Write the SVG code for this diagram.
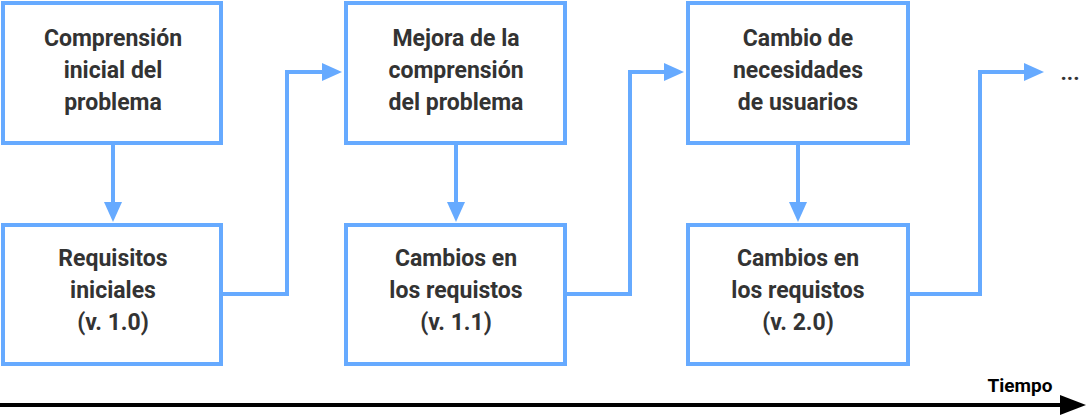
<svg xmlns="http://www.w3.org/2000/svg" width="1091" height="416" viewBox="0 0 1091 416">
<style>
.b{fill:#fff;stroke:#66aaff;stroke-width:4}
.t{font-family:Roboto,"Liberation Sans",sans-serif;font-weight:bold;font-size:23px;fill:#333;text-anchor:middle}
.c{fill:none;stroke:#66aaff;stroke-width:4}
</style>
<defs>
<marker id="a" markerWidth="8" markerHeight="8" refX="6" refY="4" orient="auto" markerUnits="userSpaceOnUse" viewBox="0 0 8 8"><path d="M0,0L8,4L0,8z" fill="#66aaff"/></marker>
<marker id="k" markerWidth="24" markerHeight="16" refX="22" refY="8" orient="auto" markerUnits="userSpaceOnUse"><path d="M0,0L24,8L0,16z" fill="#000"/></marker>
</defs>
<g id="connectors">
<path class="c" d="M113,145V208" marker-end="url(#a)" style="marker-end:none"/>
<path d="M104,202L113,222L122,202z" fill="#66aaff"/>
<path class="c" d="M456,145V208"/><path d="M447,202L456,222L465,202z" fill="#66aaff"/>
<path class="c" d="M798,145V208"/><path d="M789,202L798,222L807,202z" fill="#66aaff"/>
<path class="c" d="M222,294H287V72H328"/><path d="M322,63L342,72L322,81z" fill="#66aaff"/>
<path class="c" d="M566,294H630V72H670"/><path d="M664,63L684,72L664,81z" fill="#66aaff"/>
<path class="c" d="M909,294H980V72H1030"/><path d="M1024,63L1044,72L1024,81z" fill="#66aaff"/>
<path d="M0,405H1065" stroke="#000" stroke-width="4"/><path d="M1060,395L1086,405L1060,415z" fill="#000"/>
</g>
<g id="n1"><rect class="b" x="3" y="3" width="218" height="140"/><text class="t" x="113" y="46">Comprensión</text><text class="t" x="113" y="78">inicial del</text><text class="t" x="113" y="110">problema</text></g>
<g id="n2"><rect class="b" x="346" y="3" width="219" height="140"/><text class="t" x="456" y="46">Mejora de la</text><text class="t" x="456" y="78">comprensión</text><text class="t" x="456" y="110">del problema</text></g>
<g id="n3"><rect class="b" x="688" y="3" width="220" height="140"/><text class="t" x="798" y="46">Cambio de</text><text class="t" x="798" y="78">necesidades</text><text class="t" x="798" y="110">de usuarios</text></g>
<g id="n4"><rect class="b" x="3" y="225" width="218" height="139"/><text class="t" x="113" y="266">Requisitos</text><text class="t" x="113" y="298">iniciales</text><text class="t" x="113" y="330">(v. 1.0)</text></g>
<g id="n5"><rect class="b" x="346" y="225" width="219" height="139"/><text class="t" x="456" y="266">Cambios en</text><text class="t" x="456" y="298">los requistos</text><text class="t" x="456" y="330">(v. 1.1)</text></g>
<g id="n6"><rect class="b" x="688" y="225" width="220" height="139"/><text class="t" x="798" y="266">Cambios en</text><text class="t" x="798" y="298">los requistos</text><text class="t" x="798" y="330">(v. 2.0)</text></g>
<text class="t" x="1070" y="80" style="font-size:22px">...</text>
<text class="t" x="1020" y="392" style="font-size:19px;fill:#000">Tiempo</text>
</svg>
